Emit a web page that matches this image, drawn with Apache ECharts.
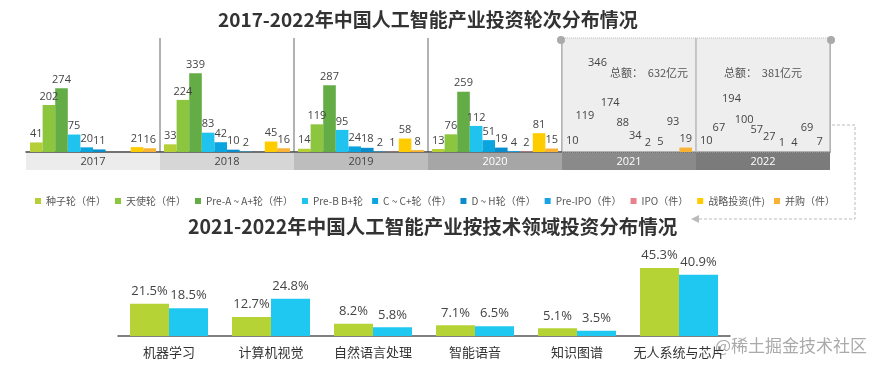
<!DOCTYPE html>
<html><head><meta charset="utf-8">
<script src="https://cdn.jsdelivr.net/npm/echarts@6/dist/echarts.min.js"></script>
<style>html,body{margin:0;padding:0;background:#fff}#c{width:890px;height:372px}</style>
</head><body><div id="c"></div>
<script>
const years = ['2017','2018','2019','2020','2021','2022'];
const roundNames = ['种子轮（件）','天使轮（件）','Pre-A ~ A+轮（件）','Pre-B B+轮','C ~ C+轮（件）','D ~ H轮（件）','Pre-IPO（件）','IPO（件）','战略投资(件)','并购（件）'];
const seedRound   = [41, 33, 14, 13, 10, 10];
const angelRound  = [202, 224, 119, 76, 119, 67];
const preARound   = [274, 339, 287, 259, 346, 194];
const preBRound   = [75, 83, 95, 112, 174, 100];
const cRound      = [20, 42, 24, 51, 88, 57];
const dhRound     = [11, 10, 18, 19, 34, 27];
const preIpo      = [null, 2, 2, 4, 2, 1];
const ipo         = [null, null, 1, 2, 5, 4];
const strategic   = [21, 45, 58, 81, 93, 69];
const mna         = [16, 16, 8, 15, 19, 7];
const totals      = ['', '', '', '', '总额：  632亿元', '总额：  381亿元'];

const techFields = ['机器学习','计算机视觉','自然语言处理','智能语音','知识图谱','无人系统与芯片'];
const share2021 = [21.5, 12.7, 8.2, 7.1, 5.1, 45.3];
const share2022 = [18.5, 24.8, 5.8, 6.5, 3.5, 40.9];

const roundData = [seedRound, angelRound, preARound, preBRound, cRound, dhRound, preIpo, ipo, strategic, mna];
const roundColors = ['#b5cf37','#8cc63e','#64ad46','#1fc3ee','#0aa5df','#0b8dcc','#1aa2e2','#e8808e','#ffcc00','#f9b233'];
const stripBg = ['#ececec','#d6d6d6','#bdbdbd','#a6a6a6','#8a8a8a','#7b7b7b'];
const stripFg = ['#444','#444','#444','#fff','#fff','#fff'];

const chart = echarts.init(document.getElementById('c'));
const rich = {};
years.forEach((y, i) => {
  rich['y' + i] = {width: 134, height: 17, lineHeight: 17, align: 'center', backgroundColor: stripBg[i], color: stripFg[i], fontSize: 11, fontFamily: 'Open Sans'};
});

const series = roundData.map((arr, si) => ({
  name: roundNames[si], type: 'bar', xAxisIndex: 0, yAxisIndex: 0,
  barGap: 0, barCategoryGap: '6%',
  itemStyle: {color: roundColors[si]},
  label: {show: true, position: 'top', distance: 3, fontSize: 11, color: '#444', fontFamily: 'Open Sans'},
  data: arr.map((v, yi) => {
    if (v === null) return null;
    const hidden = yi >= 4 && !(yi === 4 && si === 9);
    return hidden ? {value: v, itemStyle: {color: 'rgba(0,0,0,0)'}} : v;
  })
}));

series.push({
  type: 'scatter', xAxisIndex: 1, yAxisIndex: 0, symbolSize: 0, silent: true, data: [[0, 0]],
  markArea: {
    silent: true,
    itemStyle: {color: 'rgba(224,224,224,0.55)', borderColor: '#bbb', borderWidth: 1, borderType: 'dotted'},
    label: {position: 'insideTop', distance: 30, fontSize: 11, color: '#555', fontFamily: 'Noto Sans CJK SC'},
    data: [
      [{xAxis: 4, name: totals[4], label: {offset: [20, 0]}}, {xAxis: 5}],
      [{xAxis: 5, name: totals[5]}, {xAxis: 6}]
    ]
  }
});

series.push({
  name: '2021', type: 'bar', xAxisIndex: 2, yAxisIndex: 1, barWidth: 39, barGap: 0,
  itemStyle: {color: '#b5d334'},
  label: {show: true, position: 'top', distance: 6, fontSize: 13, color: '#444', formatter: '{c}%', fontFamily: 'Open Sans'},
  data: share2021
});
series.push({
  name: '2022', type: 'bar', xAxisIndex: 2, yAxisIndex: 1, barWidth: 39, barGap: 0,
  itemStyle: {color: '#1fc8f0'},
  label: {show: true, position: 'top', distance: 6, fontSize: 13, color: '#444', formatter: '{c}%', fontFamily: 'Open Sans'},
  data: share2022
});

chart.setOption({
  animation: false,
  title: [
    {text: '2017-2022年中国人工智能产业投资轮次分布情况', left: 213, top: 5, textStyle: {fontSize: 19, fontWeight: 'bold', color: '#333', fontFamily: 'Noto Sans CJK SC'}},
    {text: '2021-2022年中国人工智能产业按技术领域投资分布情况', left: 183, top: 212, textStyle: {fontSize: 19.5, fontWeight: 'bold', color: '#333', fontFamily: 'Noto Sans CJK SC'}}
  ],
  legend: {
    data: roundNames, left: 30, top: 191, itemWidth: 6, itemHeight: 6, itemGap: 9, icon: 'rect',
    textStyle: {fontSize: 10, color: '#555', fontFamily: 'Noto Sans CJK SC'}
  },
  grid: [
    {left: 26, right: 60, top: 38, height: 114},
    {left: 118, right: 160, top: 246, height: 90}
  ],
  xAxis: [
    {type: 'category', gridIndex: 0, data: years,
      axisLine: {lineStyle: {color: '#444', width: 1.5}}, axisTick: {show: false},
      splitLine: {show: true, interval: (i) => i > 0, lineStyle: {color: '#999', width: 1.5}},
      axisLabel: {interval: 0, margin: 1, formatter: (v, i) => '{y' + i + '|' + v + '}', rich: rich}},
    {type: 'value', gridIndex: 0, min: 0, max: 6, show: false},
    {type: 'category', gridIndex: 1, data: techFields,
      axisLine: {lineStyle: {color: '#555', width: 1.5}}, axisTick: {show: false},
      axisLabel: {interval: 0, margin: 10, fontSize: 13, color: '#333', fontFamily: 'Noto Sans CJK SC'}}
  ],
  yAxis: [
    {type: 'value', gridIndex: 0, min: 0, max: 490, show: false},
    {type: 'value', gridIndex: 1, min: 0, max: 60, show: false}
  ],
  graphic: [
    {type: 'circle', shape: {cx: 561, cy: 40, r: 4}, style: {fill: '#aaa'}, z: 10},
    {type: 'circle', shape: {cx: 831, cy: 40, r: 4}, style: {fill: '#aaa'}, z: 10},
    {type: 'polyline', shape: {points: [[832, 125], [855, 125], [855, 219], [698, 219]]}, style: {stroke: '#bbb', lineWidth: 1, lineDash: [3, 2], fill: null}},
    {type: 'polygon', shape: {points: [[691, 219], [699, 215], [699, 223]]}, style: {fill: '#bbb'}},
    {type: 'text', left: 715, top: 337, style: {text: '@稀土掘金技术社区', fontSize: 17, fill: '#aaa', fontFamily: 'Noto Sans CJK SC'}}
  ],
  series: series
});
</script></body></html>
